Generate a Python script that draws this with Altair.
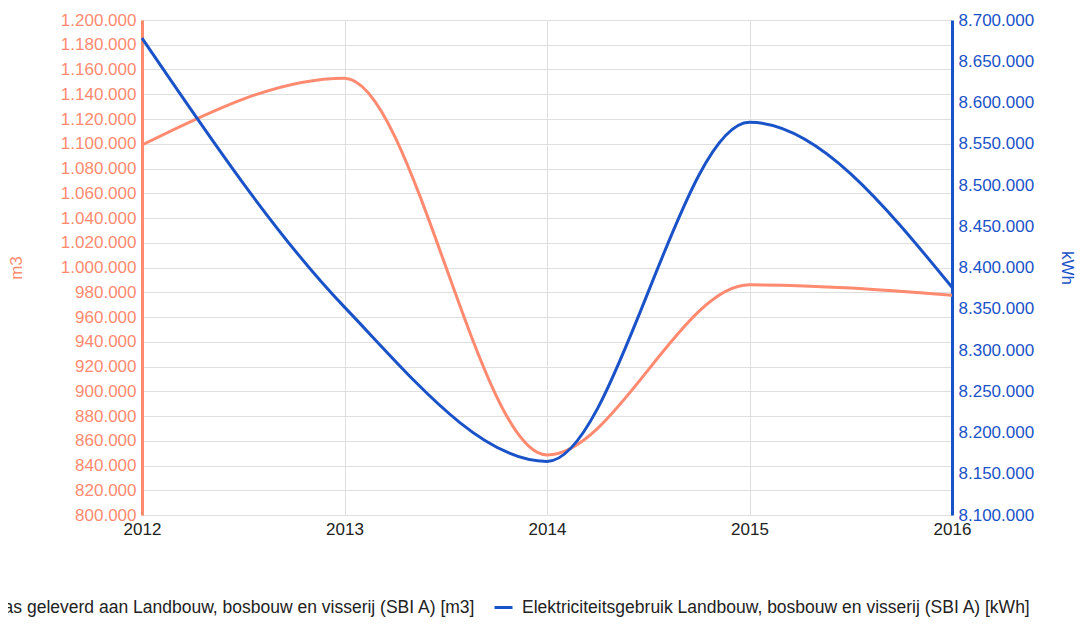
import altair as alt
import pandas as pd

years = [2012, 2013, 2014, 2015, 2016]
gas = [1099000, 1153000, 848500, 986000, 977500]
elec = [8678000, 8352000, 8165000, 8576000, 8376000]
gas_name = "Gas geleverd aan Landbouw, bosbouw en visserij (SBI A) [m3]"
elec_name = "Elektriciteitsgebruik Landbouw, bosbouw en visserij (SBI A) [kWh]"
left_ticks = list(range(800000, 1200001, 20000))
right_ticks = list(range(8100000, 8700001, 50000))

SALMON = "#ff8a70"
BLUE = "#1a52c8"
FONT = "Liberation Sans"

df_gas = pd.DataFrame({"year": years, "value": gas, "series": gas_name})
df_elec = pd.DataFrame({"year": years, "value": elec, "series": elec_name})

color = alt.Color(
    "series:N",
    scale=alt.Scale(domain=[gas_name, elec_name], range=[SALMON, BLUE]),
    legend=alt.Legend(
        title=None,
        orient="none",
        direction="horizontal",
        legendX=-181,
        legendY=577,
        symbolType="stroke",
        symbolSize=324,
        symbolStrokeWidth=3,
        labelFontSize=17.5,
        labelFont=FONT,
        labelColor="#222222",
        labelLimit=0,
        labelOffset=8,
        columnPadding=12,
    ),
)

x = alt.X(
    "year:Q",
    scale=alt.Scale(domain=[2012, 2016], nice=False, zero=False),
    axis=alt.Axis(
        values=years, format="d", title=None, ticks=False, domain=False,
        labelColor="#222222", labelFontSize=17, labelFont=FONT, labelPadding=6,
        grid=True, gridColor="#dedede", labelFlush=False,
    ),
)

gas_line = alt.Chart(df_gas).mark_line(
    interpolate="monotone", strokeWidth=3
).encode(
    x=x,
    y=alt.Y(
        "value:Q",
        scale=alt.Scale(domain=[800000, 1200000], nice=False, zero=False),
        axis=alt.Axis(
            orient="left", values=left_ticks, format=",.0f", title="m3",
            titleColor=SALMON, titleFontSize=17, titleFont=FONT, titleFontWeight="normal",
            titlePadding=35,
            labelColor=SALMON, labelFontSize=17, labelFont=FONT, labelPadding=6,
            domainColor=SALMON, domainWidth=3, ticks=False,
            grid=True, gridColor="#dedede",
        ),
    ),
    color=color,
)

elec_line = alt.Chart(df_elec).mark_line(
    interpolate="monotone", strokeWidth=3
).encode(
    x=x,
    y=alt.Y(
        "value:Q",
        scale=alt.Scale(domain=[8100000, 8700000], nice=False, zero=False),
        axis=alt.Axis(
            orient="right", values=right_ticks, format=",.0f", title="kWh",
            titleColor=BLUE, titleFontSize=17, titleFont=FONT, titleFontWeight="normal",
            titleAngle=90, titlePadding=24,
            labelColor=BLUE, labelFontSize=17, labelFont=FONT, labelPadding=6,
            domainColor=BLUE, domainWidth=3, ticks=False, grid=False,
        ),
    ),
    color=color,
)

chart = alt.layer(gas_line, elec_line).resolve_scale(y="independent").properties(
    width=810,
    height=495,
    padding={"left": 134, "top": 12, "right": 125, "bottom": 104},
    autosize=alt.AutoSizeParams(type="none"),
).configure(
    locale={"number": {"decimal": ",", "thousands": ".", "grouping": [3], "currency": ["€", ""]}},
).configure_view(stroke=None)

chart.save("out.html", embed_options={"renderer": "svg", "actions": False})
